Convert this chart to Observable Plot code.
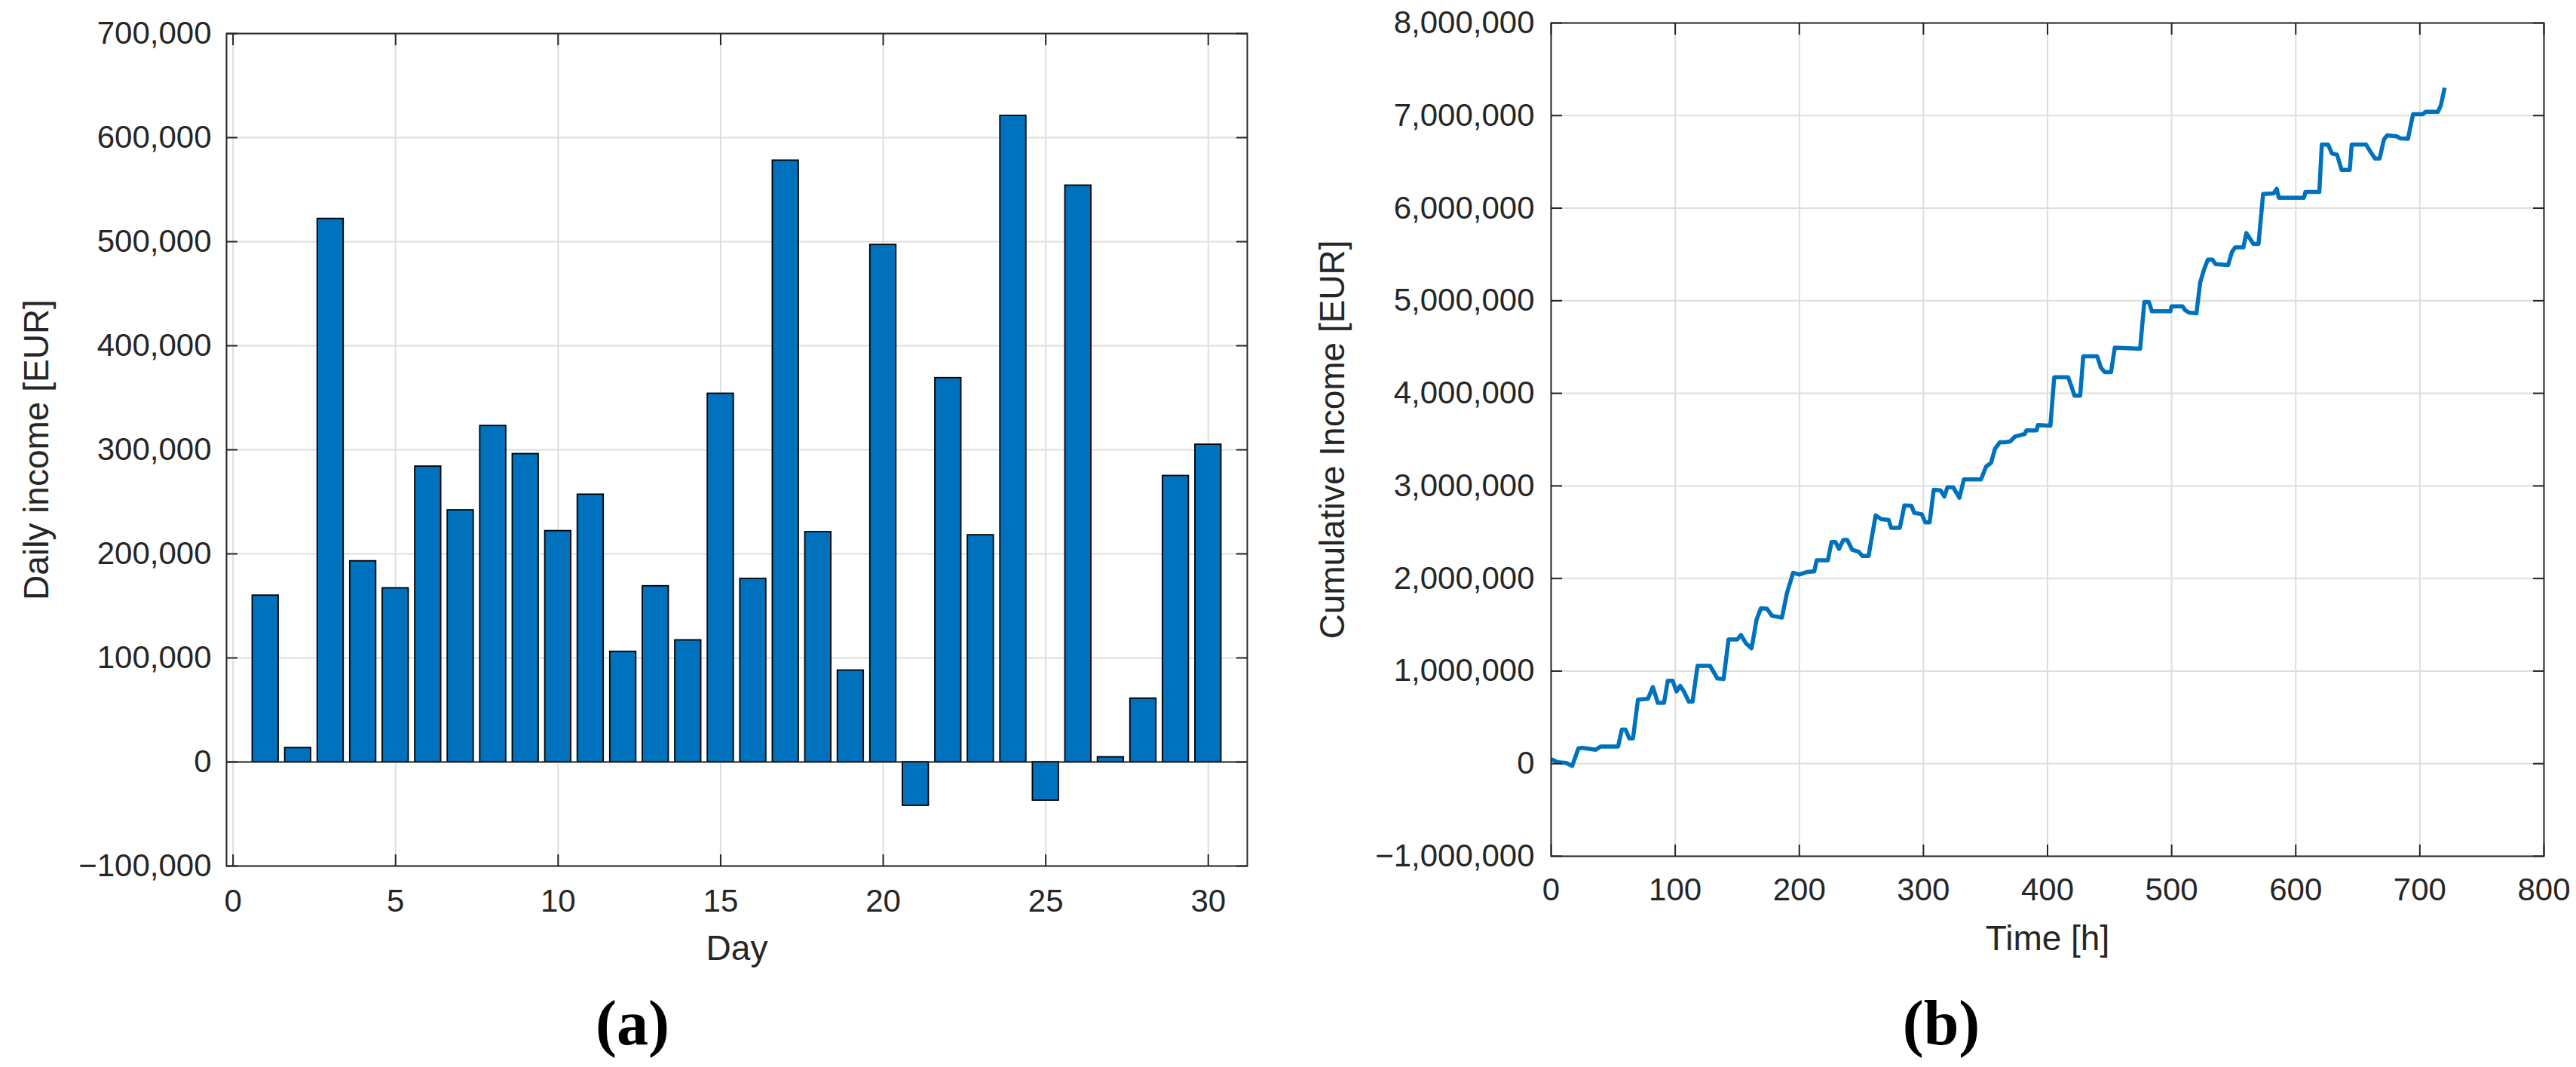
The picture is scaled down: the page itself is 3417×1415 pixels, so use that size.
<!DOCTYPE html>
<html><head><meta charset="utf-8">
<script src="https://cdn.jsdelivr.net/npm/d3@7"></script>
<script src="https://cdn.jsdelivr.net/npm/@observablehq/plot@0.6"></script>
<style>
html,body{margin:0;padding:0;background:#fff;}
#wrap{position:relative;width:3417px;height:1415px;overflow:hidden;background:#fff;}
#a,#b{position:absolute;top:0;}
#a{left:0;} #b{left:1720px;}
.cap{position:absolute;font-family:"Liberation Serif","Times New Roman",serif;font-weight:bold;font-size:84px;color:#000;transform:translateX(-50%);line-height:1;white-space:nowrap;}
</style></head><body>
<div id="wrap"><div id="a"></div><div id="b"></div>
<div class="cap" style="left:839px;top:1315px">(a)</div>
<div class="cap" style="left:2575px;top:1315px">(b)</div>
</div>
<script>
// ---- Panel (a): daily income ----
const days = [1,2,3,4,5,6,7,8,9,10,11,12,13,14,15,16,17,18,19,20,21,22,23,24,25,26,27,28,29,30];
const dailyIncome = [160000,13500,522000,193000,167000,284000,242000,323000,296000,222000,
  257000,106000,169000,117000,354000,176000,578000,221000,88000,497000,
  -42000,369000,218000,621000,-37000,554000,4600,61000,275000,305000];
const dayTicks = [0,5,10,15,20,25,30];
const dailyTicks = [-100000,0,100000,200000,300000,400000,500000,600000,700000];

// ---- Panel (b): cumulative income ----
const hours = [0,1,5,12,17,22,25,36,40,54,
  57,60,63,66,70,78,82,86,91,94,
  98,101,104,107,111,114,118,128,134,139,
  143,150,153,157,161.5,165.6,169,174,178,186,
  190,195,200,206,212,214,223,226,229,232,
  235.5,238.6,242.6,247.7,250.8,255.8,261.5,266,272,274,
  281,284.7,290.4,292.5,298.6,301.6,305,308.3,313.8,316.9,
  319.3,324,329,332.6,346.4,350.5,354.5,357.6,361.6,365.7,
  369.8,373.9,381.6,383,391.2,392.2,402.3,405.4,416.6,419.6,
  421.7,426.3,428.8,440,443,446.1,451.2,454.2,474.6,478,
  481.7,484.1,499,500,508.8,510.8,513.9,520,523,526.1,
  529.2,532.9,535.3,545.5,548.6,551.2,557.8,560.2,565.9,570,
  573.7,582.2,584.7,586.3,606.7,607.8,619,621,626.1,629.2,
  633.3,636.9,643.5,645.1,656.7,659.8,663.9,667.6,671,673.7,
  681.2,684.3,690.4,694.5,702.2,704.7,714.5,716.9,720];
const cumulativeIncomeMEUR = [0.045,0.043,0.016,0.008,-0.024,0.165,0.17,0.151,0.186,0.186,
  0.368,0.368,0.273,0.273,0.692,0.70,0.827,0.657,0.657,0.895,
  0.895,0.78,0.84,0.78,0.67,0.67,1.057,1.057,0.92,0.915,
  1.342,1.342,1.39,1.30,1.246,1.557,1.678,1.673,1.597,1.578,
  1.84,2.062,2.043,2.07,2.076,2.197,2.197,2.395,2.395,2.32,
  2.417,2.417,2.31,2.29,2.244,2.244,2.682,2.641,2.633,2.547,
  2.547,2.79,2.785,2.71,2.695,2.606,2.606,2.958,2.952,2.885,
  2.985,2.985,2.871,3.071,3.071,3.209,3.25,3.399,3.472,3.472,
  3.48,3.534,3.561,3.60,3.60,3.656,3.65,4.175,4.175,4.061,
  3.975,3.975,4.40,4.40,4.278,4.229,4.229,4.494,4.481,4.986,
  4.986,4.886,4.886,4.94,4.94,4.90,4.872,4.864,5.199,5.336,
  5.445,5.445,5.396,5.385,5.527,5.576,5.576,5.731,5.614,5.614,
  6.154,6.16,6.209,6.113,6.113,6.176,6.176,6.686,6.686,6.59,
  6.577,6.413,6.413,6.686,6.686,6.618,6.536,6.536,6.741,6.787,
  6.776,6.754,6.749,7.014,7.014,7.041,7.041,7.109,7.30];
const hourTicks = [0,100,200,300,400,500,600,700,800];
const cumTicks = [-1000000,0,1000000,2000000,3000000,4000000,5000000,6000000,7000000,8000000];

const INK = "#262626";
const GRID = "#dedede";
const BLUE = "#0072BD";
const FONT = '"Liberation Sans", Arial, Helvetica, sans-serif';
const fmt = d3.format(",");
const TL = 15;

function frameTicks(xt, yt) {
  return [
    Plot.axisX(xt, {anchor: "bottom", tickSize: TL, dy: -TL, fill: "none", stroke: INK, strokeWidth: 2, label: null}),
    Plot.axisX(xt, {anchor: "top", tickSize: TL, dy: TL, fill: "none", stroke: INK, strokeWidth: 2, label: null}),
    Plot.axisY(yt, {anchor: "left", tickSize: TL, dx: TL, fill: "none", stroke: INK, strokeWidth: 2, label: null}),
    Plot.axisY(yt, {anchor: "right", tickSize: TL, dx: -TL, fill: "none", stroke: INK, strokeWidth: 2, label: null})
  ];
}

// Panel (a)
const dailyRows = days.map((d, i) => ({day: d, income: dailyIncome[i]}));
const chartA = Plot.plot({
  width: 1700, height: 1300,
  marginLeft: 300, marginRight: 46, marginTop: 44, marginBottom: 152,
  style: {fontFamily: FONT, fontSize: "42px", color: INK, background: "transparent", overflow: "visible"},
  x: {domain: [-0.2, 31.2]},
  y: {domain: [-100000, 700000]},
  marks: [
    Plot.gridX(dayTicks, {stroke: GRID, strokeOpacity: 1, strokeWidth: 2}),
    Plot.gridY(dailyTicks, {stroke: GRID, strokeOpacity: 1, strokeWidth: 2}),
    Plot.rectY(dailyRows, {x1: d => d.day - 0.4, x2: d => d.day + 0.4, y1: 0, y2: "income", fill: BLUE, stroke: "#000", strokeWidth: 1.8}),
    Plot.ruleY([0], {stroke: INK, strokeWidth: 2}),
    Plot.frame({stroke: INK, strokeWidth: 2}),
    ...frameTicks(dayTicks, dailyTicks),
    Plot.axisX(dayTicks, {anchor: "bottom", tickSize: 0, tickPadding: 31, tickFormat: fmt, fill: INK, label: null}),
    Plot.axisY(dailyTicks, {anchor: "left", tickSize: 0, tickPadding: 20, tickFormat: fmt, fill: INK, label: null}),
    Plot.text(["Daily income [EUR]"], {text: d => d, frameAnchor: "left", rotate: -90, dx: -269, lineAnchor: "top", textAnchor: "middle", fontSize: 46, fill: INK}),
    Plot.text(["Day"], {text: d => d, frameAnchor: "bottom", dy: 92, lineAnchor: "top", textAnchor: "middle", fontSize: 46, fill: INK})
  ]
});
document.getElementById("a").append(chartA);

// Panel (b)
const cumRows = hours.map((h, i) => ({h, v: cumulativeIncomeMEUR[i] * 1e6}));
const chartB = Plot.plot({
  width: 1697, height: 1300,
  marginLeft: 337, marginRight: 43, marginTop: 30, marginBottom: 165,
  style: {fontFamily: FONT, fontSize: "42px", color: INK, background: "transparent", overflow: "visible"},
  x: {domain: [0, 800]},
  y: {domain: [-1000000, 8000000]},
  marks: [
    Plot.gridX(hourTicks, {stroke: GRID, strokeOpacity: 1, strokeWidth: 2}),
    Plot.gridY(cumTicks, {stroke: GRID, strokeOpacity: 1, strokeWidth: 2}),
    Plot.line(cumRows, {x: "h", y: "v", stroke: BLUE, strokeWidth: 5.5, strokeLinejoin: "round", strokeLinecap: "butt"}),
    Plot.frame({stroke: INK, strokeWidth: 2}),
    ...frameTicks(hourTicks, cumTicks),
    Plot.axisX(hourTicks, {anchor: "bottom", tickSize: 0, tickPadding: 29, tickFormat: fmt, fill: INK, label: null}),
    Plot.axisY(cumTicks, {anchor: "left", tickSize: 0, tickPadding: 22, tickFormat: fmt, fill: INK, label: null}),
    Plot.text(["Cumulative Income [EUR]"], {text: d => d, frameAnchor: "left", rotate: -90, dx: -307, lineAnchor: "top", textAnchor: "middle", fontSize: 46, fill: INK}),
    Plot.text(["Time [h]"], {text: d => d, frameAnchor: "bottom", dy: 92, lineAnchor: "top", textAnchor: "middle", fontSize: 46, fill: INK})
  ]
});
document.getElementById("b").append(chartB);
</script>
</body></html>
